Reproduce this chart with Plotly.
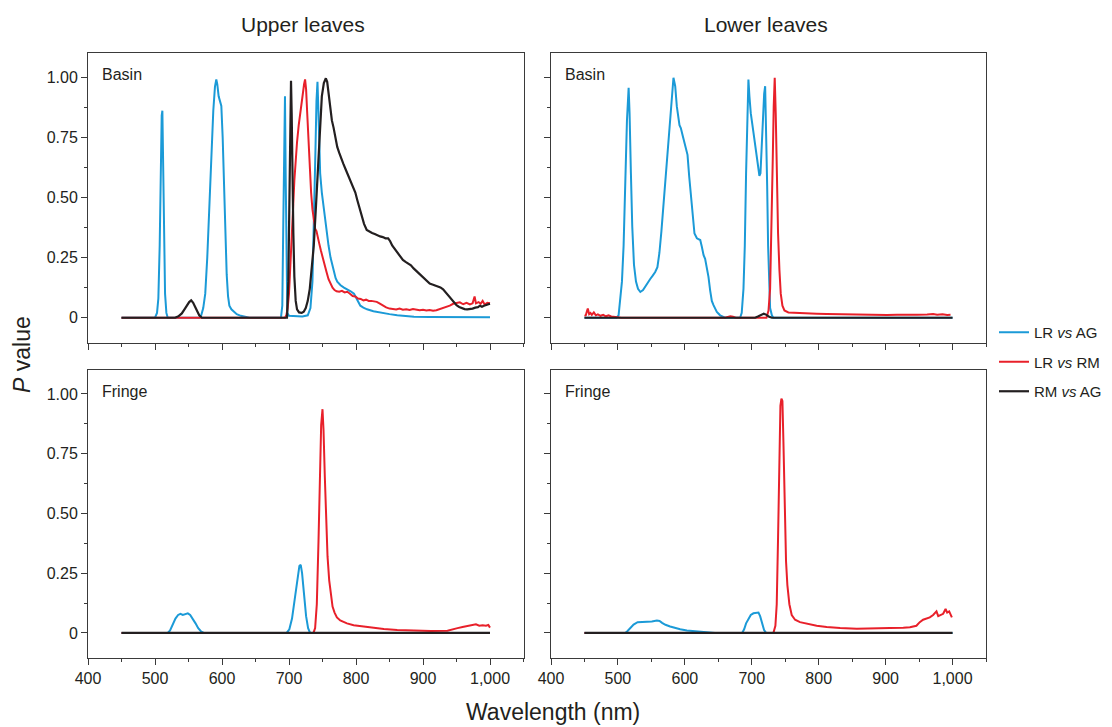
import plotly.graph_objects as go
from plotly.subplots import make_subplots

# ---- Upper leaves, Basin ----
UB_LRAG_WL = [450, 500, 503, 505, 507, 508.5, 510, 511, 512, 513.5, 515, 517, 519,
              566, 569, 572, 575, 578, 581, 584, 587, 589.5, 591.5, 593, 595, 597, 599, 601, 603, 605,
              607, 609, 611, 614, 618, 622, 628, 636, 641,
              688, 690, 691.5, 693, 694, 695, 696, 697.5, 700, 710, 720, 728, 732, 735, 737.5,
              739.5, 741, 742.5, 744, 746.5, 749, 751.5, 754, 756.5, 759, 762, 764.5, 767, 769.5,
              772, 777, 782, 787, 792, 797, 800, 803, 806.5, 811, 816.5, 826, 836.5, 850, 861.5,
              875, 886.5, 910, 950, 1000]
UB_LRAG_P = [0, 0, 0.02, 0.08, 0.3, 0.6, 0.84, 0.86, 0.7, 0.35, 0.1, 0.02, 0,
             0, 0.01, 0.04, 0.1, 0.25, 0.47, 0.68, 0.86, 0.96, 0.99, 0.97, 0.92, 0.9, 0.88, 0.75, 0.55, 0.35,
             0.18, 0.09, 0.05, 0.035, 0.025, 0.015, 0.008, 0.003, 0,
             0, 0.05, 0.4, 0.8, 0.92, 0.6, 0.2, 0.02, 0.008, 0.005, 0.005, 0.01, 0.04, 0.15, 0.4,
             0.7, 0.9, 0.98, 0.85, 0.6, 0.52, 0.46, 0.40, 0.36, 0.3, 0.25, 0.22, 0.19, 0.165,
             0.15, 0.135, 0.125, 0.118, 0.11, 0.1, 0.085, 0.065, 0.05, 0.042, 0.035, 0.027, 0.021, 0.015, 0.01,
             0.007, 0.004, 0.003, 0.002, 0.002]

UB_LRRM_WL = [450, 694, 696, 698, 700, 702, 704, 706, 708, 710, 712, 714.5, 717, 720, 722.5, 724,
              725.5, 727, 729, 731, 733, 735, 737, 739, 741, 743, 745, 747.5, 750, 753, 756, 759,
              762, 765, 768, 771, 775, 779, 783, 787, 791, 795, 799, 803, 807, 811, 815, 819, 823,
              827, 831, 835, 840, 845, 850, 855, 860, 865, 870, 875, 880, 885, 890, 895, 900, 905,
              910, 915, 920, 925, 930, 935, 940, 945, 950, 955, 960, 965, 970, 974, 977, 979, 983,
              986, 989, 992, 996, 1000]
UB_LRRM_P = [0, 0, 0.01, 0.04, 0.1, 0.2, 0.33, 0.45, 0.57, 0.66, 0.73, 0.8, 0.86, 0.93, 0.97, 0.99,
             0.95, 0.86, 0.74, 0.62, 0.52, 0.45, 0.4, 0.37, 0.36, 0.34, 0.31, 0.28, 0.25, 0.22, 0.19, 0.16,
             0.14, 0.125, 0.115, 0.11, 0.108, 0.112, 0.105, 0.108, 0.1, 0.09, 0.088, 0.08, 0.078, 0.072, 0.075, 0.07, 0.07,
             0.068, 0.066, 0.06, 0.05, 0.043, 0.038, 0.036, 0.034, 0.038, 0.033, 0.035, 0.032, 0.036, 0.034, 0.031, 0.033, 0.03,
             0.032, 0.029, 0.031, 0.035, 0.04, 0.045, 0.05, 0.058, 0.06, 0.064, 0.056, 0.062, 0.055, 0.06, 0.088, 0.06, 0.065,
             0.058, 0.07, 0.055, 0.062, 0.06]

UB_RMAG_WL = [450, 530, 535, 540, 544, 548, 551, 554, 557, 560, 563, 566, 570,
              697, 699, 700.5, 702, 703, 704, 705, 706.5, 708, 710, 712, 715, 719, 722, 725, 728,
              731, 734, 737, 740, 743, 746, 749, 752, 755, 757, 759, 761.5, 764, 766.5, 769, 772,
              775, 778, 781, 784, 787, 790, 793, 796, 799, 802, 805, 809, 812, 816, 820, 824, 828,
              832, 836, 840, 844, 848, 851, 854, 858, 862, 866, 870, 874, 878, 882, 886, 890, 894,
              898, 902, 906, 910, 914, 918, 922, 926, 930, 934, 938, 942, 946, 950, 954, 958, 962,
              966, 970, 974, 978, 982, 985, 988, 991, 994, 997, 1000]
UB_RMAG_P = [0, 0, 0.006, 0.018, 0.035, 0.052, 0.065, 0.072, 0.062, 0.045, 0.025, 0.01, 0,
             0, 0.15, 0.5, 0.85, 0.985, 0.85, 0.6, 0.35, 0.17, 0.07, 0.035, 0.022, 0.02, 0.025, 0.04, 0.07,
             0.12, 0.2, 0.3, 0.45, 0.62, 0.8, 0.92, 0.975, 0.995, 0.98, 0.93, 0.87, 0.82, 0.79, 0.75, 0.71,
             0.685, 0.66, 0.64, 0.62, 0.6, 0.585, 0.565, 0.548, 0.52, 0.488, 0.455, 0.418, 0.39, 0.365, 0.358, 0.352, 0.348,
             0.342, 0.338, 0.335, 0.33, 0.33, 0.318, 0.3, 0.285, 0.268, 0.253, 0.24, 0.232, 0.225, 0.218, 0.205, 0.195, 0.185,
             0.176, 0.164, 0.152, 0.142, 0.138, 0.135, 0.13, 0.126, 0.118, 0.105, 0.095, 0.08, 0.065, 0.052, 0.045, 0.04, 0.036,
             0.035, 0.036, 0.038, 0.042, 0.044, 0.05, 0.046, 0.05, 0.052, 0.055, 0.058]

# ---- Lower leaves, Basin ----
LB_LRAG_WL = [450, 498, 501, 503.5, 506, 508.5, 511, 513.5, 516, 517.4, 519.4, 521.4, 524, 527, 530,
              533.5, 537.5, 541, 544.5, 548, 552, 555.7, 559, 562, 565, 568, 571, 574, 577, 580, 583,
              585.6, 588, 592, 594, 597, 600.5, 604, 606.5, 609, 612, 614.4, 618, 623, 625.4, 628,
              630.3, 633, 635.3, 637.8, 640.3, 642.8, 647.8, 652.7, 656.7, 660,
              682.6, 685, 687.6, 689.6, 691.5, 693.5, 695, 696.5, 698.5, 702.5, 705, 707.5, 710,
              711.4, 713, 714.5, 716.5, 718.5, 720, 721.4, 723, 724.4, 725.9, 727.4, 730, 732.3, 1000]
LB_LRAG_P = [0, 0, 0.01, 0.07, 0.15, 0.3, 0.55, 0.82, 0.955, 0.85, 0.6, 0.38, 0.22, 0.15, 0.12,
             0.107, 0.115, 0.13, 0.15, 0.16, 0.175, 0.19, 0.21, 0.27, 0.36, 0.47, 0.58, 0.68, 0.77, 0.88, 0.997,
             0.962, 0.878, 0.8, 0.788, 0.754, 0.712, 0.677, 0.587, 0.517, 0.448, 0.35, 0.33, 0.323, 0.295, 0.26,
             0.245, 0.21, 0.17, 0.114, 0.07, 0.052, 0.024, 0.01, 0.003, 0,
             0, 0.02, 0.12, 0.3, 0.6, 0.88, 0.99, 0.92, 0.85, 0.77, 0.72, 0.657, 0.6,
             0.59, 0.6, 0.7, 0.837, 0.93, 0.962, 0.8, 0.55, 0.3, 0.12, 0.04, 0.01, 0, 0]

LB_LRRM_WL = [450, 452, 454, 455, 457, 459, 461, 464, 467, 470, 474, 478, 482, 486, 490, 495, 500, 505,
              660, 664, 668, 672, 676, 722, 725, 727.4, 729.4, 731.3, 732.8, 734.3, 735.8, 737.3, 739.3,
              741.3, 743.3, 745.8, 748.8, 754.7, 767, 782, 797, 812, 827, 842, 857, 872, 887, 902, 917,
              932, 947, 962, 971, 977, 985, 992, 997]
LB_LRRM_P = [0.008, 0.01, 0.03, 0.038, 0.015, 0.02, 0.012, 0.022, 0.01, 0.014, 0.008, 0.012, 0.006, 0.01, 0.005, 0.004, 0.002, 0,
             0, 0.004, 0.006, 0.004, 0, 0, 0.03, 0.12, 0.35, 0.65, 0.88, 0.997, 0.85, 0.6, 0.35,
             0.2, 0.1, 0.05, 0.03, 0.022, 0.02, 0.018, 0.017, 0.016, 0.015, 0.014, 0.012, 0.013, 0.012, 0.011, 0.012,
             0.011, 0.012, 0.013, 0.015, 0.012, 0.014, 0.011, 0.012]

LB_RMAG_WL = [450, 705, 710, 714, 718, 722, 726, 730, 1000]
LB_RMAG_P = [0, 0, 0.006, 0.013, 0.017, 0.012, 0.004, 0, 0]

# ---- Upper leaves, Fringe ----
UF_LRAG_WL = [450, 519, 522.5, 526.5, 530.5, 534.5, 538, 541.5, 545.5, 549, 552.5, 556.5, 560.5,
              564.5, 568.5, 572.5, 696.5, 700.5, 704.5, 708.5, 712.5, 715.5, 717.5, 719.5, 722.5,
              725.5, 728.5, 731.5, 1000]
UF_LRAG_P = [0, 0, 0.01, 0.035, 0.06, 0.075, 0.08, 0.075, 0.08, 0.082, 0.075, 0.06, 0.04,
             0.02, 0.007, 0, 0, 0.015, 0.06, 0.14, 0.23, 0.28, 0.285, 0.25, 0.16,
             0.07, 0.02, 0, 0]

UF_LRRM_WL = [450, 736.5, 739, 741.5, 744, 746, 748, 750, 751.5, 753.5, 755.5, 757.5, 760, 762.5,
              765, 768, 771.5, 776.5, 781.5, 786.5, 796.5, 811.5, 826.5, 841.5, 861.5, 886.5, 911.5,
              936.5, 944, 951.5, 959, 966.5, 974, 979, 984, 989, 994, 997.5, 1000]
UF_LRRM_P = [0, 0, 0.02, 0.12, 0.38, 0.65, 0.87, 0.936, 0.85, 0.65, 0.45, 0.32, 0.22, 0.15,
             0.11, 0.085, 0.065, 0.052, 0.045, 0.04, 0.032, 0.026, 0.02, 0.016, 0.012, 0.009, 0.008,
             0.009, 0.013, 0.02, 0.025, 0.028, 0.032, 0.036, 0.03, 0.032, 0.03, 0.033, 0.022]

UF_RMAG_WL = [450, 1000]
UF_RMAG_P = [0, 0]

# ---- Lower leaves, Fringe ----
LF_LRAG_WL = [450, 511, 514.4, 518.4, 523.4, 529.4, 535.8, 543.3, 550.7, 558.2, 562.2, 566, 571,
              578, 585.6, 593, 603, 613, 623, 633, 640.3, 645,
              685.6, 688.6, 691.5, 695, 698.5, 702.5, 706.5, 710, 712.5, 715.4, 718.4, 721.4, 1000]
LF_LRAG_P = [0, 0, 0.008, 0.022, 0.035, 0.045, 0.046, 0.046, 0.048, 0.052, 0.05, 0.042, 0.034,
             0.027, 0.02, 0.015, 0.01, 0.008, 0.006, 0.004, 0.002, 0,
             0, 0.015, 0.04, 0.06, 0.075, 0.082, 0.085, 0.085, 0.07, 0.04, 0.012, 0, 0]

LF_LRRM_WL = [450, 732.3, 735.3, 737.3, 739.3, 741.3, 742.8, 744.3, 745.8, 747.3, 749.3, 751.2, 753.2,
              756.2, 759.7, 764.7, 772, 782, 797, 812, 832, 857, 881.6, 906.5, 926.4, 936.3, 946, 951,
              956, 961, 966, 971, 976, 978.6, 982.6, 986, 989.6, 992, 995, 997.5, 999]
LF_LRRM_P = [0, 0, 0.03, 0.12, 0.4, 0.78, 0.95, 0.98, 0.97, 0.8, 0.5, 0.3, 0.2,
             0.12, 0.075, 0.055, 0.045, 0.038, 0.03, 0.025, 0.02, 0.017, 0.017, 0.02, 0.022, 0.024, 0.03, 0.045,
             0.055, 0.06, 0.065, 0.075, 0.09, 0.07, 0.075, 0.08, 0.1, 0.085, 0.09, 0.07, 0.065]

LF_RMAG_WL = [450, 1000]
LF_RMAG_P = [0, 0]

# ---- labels ----
SERIES_NAMES = ["LR <i>vs</i> AG", "LR <i>vs</i> RM", "RM <i>vs</i> AG"]
COLUMN_TITLES = ["Upper leaves", "Lower leaves"]
ROW_LABELS = ["Basin", "Fringe"]
X_TICKS = [400, 500, 600, 700, 800, 900, 1000]
X_TICK_TEXT = ["400", "500", "600", "700", "800", "900", "1,000"]
Y_TICKS = [0, 0.25, 0.5, 0.75, 1.0]
Y_TICK_TEXT = ["0", "0.25", "0.50", "0.75", "1.00"]

COLORS = ["#1b9ad7", "#e8202a", "#231f20"]
FONT = "Liberation Sans, Arial, sans-serif"
TEXT_COLOR = "#231f20"
AXIS_COLOR = "#3a3a3a"

panels = {
    (1, 1): [(UB_LRAG_WL, UB_LRAG_P), (UB_LRRM_WL, UB_LRRM_P), (UB_RMAG_WL, UB_RMAG_P)],
    (1, 2): [(LB_LRAG_WL, LB_LRAG_P), (LB_LRRM_WL, LB_LRRM_P), (LB_RMAG_WL, LB_RMAG_P)],
    (2, 1): [(UF_LRAG_WL, UF_LRAG_P), (UF_LRRM_WL, UF_LRRM_P), (UF_RMAG_WL, UF_RMAG_P)],
    (2, 2): [(LF_LRAG_WL, LF_LRAG_P), (LF_LRRM_WL, LF_LRRM_P), (LF_RMAG_WL, LF_RMAG_P)],
}

fig = make_subplots(rows=2, cols=2)

for (r, c), series in panels.items():
    for i, (wl, p) in enumerate(series):
        fig.add_trace(
            go.Scatter(
                x=wl, y=p, mode="lines", name=SERIES_NAMES[i],
                line=dict(color=COLORS[i], width=2 if i < 2 else 2.2),
                legendgroup=SERIES_NAMES[i],
                showlegend=(r == 1 and c == 1),
            ),
            row=r, col=c,
        )

W, H = 1112, 727
x_domains = {1: [88 / W, 523.5 / W], 2: [551 / W, 986 / W]}
y_domains = {1: [1 - 343 / H, 1 - 53 / H], 2: [1 - 658 / H, 1 - 370 / H]}

for r in (1, 2):
    for c in (1, 2):
        fig.update_xaxes(
            row=r, col=c, domain=x_domains[c], range=[400, 1050], automargin=False,
            tickmode="array", tickvals=X_TICKS, ticktext=X_TICK_TEXT,
            showticklabels=(r == 2), ticks="outside", ticklen=6, tickwidth=1,
            tickcolor=AXIS_COLOR,
            minor=dict(dtick=50, tick0=400, ticks="outside", ticklen=3, tickcolor=AXIS_COLOR),
            showline=True, linecolor=AXIS_COLOR, linewidth=1, mirror=True,
            showgrid=False, zeroline=False,
            tickfont=dict(family=FONT, size=16, color=TEXT_COLOR),
        )
        fig.update_yaxes(
            row=r, col=c, domain=y_domains[r], range=[-0.105, 1.1], automargin=False,
            tickmode="array", tickvals=Y_TICKS, ticktext=Y_TICK_TEXT,
            showticklabels=(c == 1), ticks="outside", ticklen=6, tickwidth=1,
            tickcolor=AXIS_COLOR,
            minor=dict(dtick=0.125, tick0=0, ticks="outside", ticklen=3, tickcolor=AXIS_COLOR),
            showline=True, linecolor=AXIS_COLOR, linewidth=1, mirror=True,
            showgrid=False, zeroline=False,
            tickfont=dict(family=FONT, size=16, color=TEXT_COLOR),
        )

annotations = []
for c, title in zip((1, 2), COLUMN_TITLES):
    annotations.append(dict(
        text=title, x=sum(x_domains[c]) / 2 - 3 / W, y=1 - 25 / H, xref="paper", yref="paper",
        xanchor="center", yanchor="middle", showarrow=False,
        font=dict(family=FONT, size=21, color=TEXT_COLOR),
    ))
for r, label in zip((1, 2), ROW_LABELS):
    for c in (1, 2):
        annotations.append(dict(
            text=label, x=x_domains[c][0] + 12 / W, y=y_domains[r][1] - 11 / H,
            xref="paper", yref="paper", xanchor="left", yanchor="top", showarrow=False,
            font=dict(family=FONT, size=16, color=TEXT_COLOR),
        ))
annotations.append(dict(
    text="<i>P</i> value", x=22 / W, y=1 - 355 / H, xref="paper", yref="paper",
    xanchor="center", yanchor="middle", textangle=-90, showarrow=False,
    font=dict(family=FONT, size=23, color=TEXT_COLOR),
))
annotations.append(dict(
    text="Wavelength (nm)", x=553 / W, y=1 - 712 / H, xref="paper", yref="paper",
    xanchor="center", yanchor="middle", showarrow=False,
    font=dict(family=FONT, size=23, color=TEXT_COLOR),
))

fig.update_layout(
    width=W, height=H,
    margin=dict(l=0, r=0, t=0, b=0, autoexpand=False),
    paper_bgcolor="white", plot_bgcolor="white",
    annotations=annotations,
    legend=dict(
        x=994 / W, y=1 - 316 / H, xanchor="left", yanchor="top",
        font=dict(family=FONT, size=15, color=TEXT_COLOR),
        tracegroupgap=7, bgcolor="rgba(0,0,0,0)",
    ),
)

fig.write_html("out.html")
